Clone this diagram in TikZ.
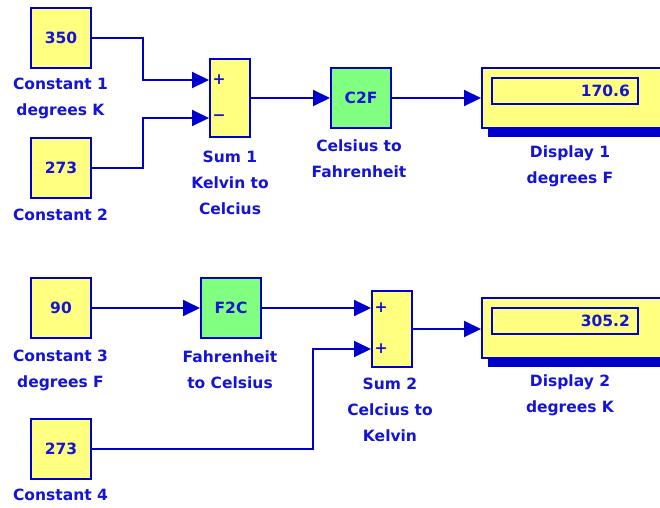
\documentclass[tikz,border=0pt]{standalone}
\usepackage{fontspec}
\setmainfont{DejaVu Sans}[UprightFont=* Bold]
\usetikzlibrary{arrows.meta,calc}
\definecolor{sblue}{RGB}{0,0,205}
\definecolor{stext}{RGB}{20,20,215}
\definecolor{syellow}{RGB}{255,255,128}
\definecolor{sgreen}{RGB}{128,255,128}
\begin{document}
\begin{tikzpicture}[x=1pt,y=-1pt,
  every node/.style={font=\fontsize{15.5}{26}\selectfont, text=stext, inner sep=0pt},
  blockbox/.style={draw=sblue, line width=2pt, fill=syellow, minimum width=60pt, minimum height=60pt},
  gainbox/.style={blockbox, fill=sgreen},
  sumbox/.style={blockbox, minimum width=40pt, minimum height=78pt},
  dispbox/.style={draw=sblue, line width=2pt, fill=syellow, minimum width=240pt, minimum height=60pt, anchor=west},
  fieldbox/.style={draw=sblue, line width=2pt, fill=syellow, minimum width=146pt, minimum height=26pt, anchor=west},
  lbl/.style={align=center},
  wire/.style={draw=sblue, line width=2pt, -{Triangle[length=17pt,width=16pt]}},
]
\useasboundingbox (0,0) rectangle (660,507);
\clip (0,0) rectangle (660,507);
\fill[white] (0,0) rectangle (660,507);

% ---- top row ----
\node[blockbox] (c1) at (61,38) {350};
\node[lbl] (c1l) at (60.5,98.5) {Constant 1\\degrees K};
\node[blockbox] (c2) at (61,168) {273};
\node[lbl] (c2l) at (60.5,215) {Constant 2};

\node[sumbox] (s1) at (230,98) {};
\coordinate (s1a) at ([yshift=18pt]s1.west);
\coordinate (s1b) at ([yshift=-20pt]s1.west);
\node (s1ap) at ([xshift=10pt]s1a) {+};
\node (s1bp) at ([xshift=10pt]s1b) {−};
\node[lbl] (s1l) at (230,183) {Sum 1\\Kelvin to\\Celcius};

\node[gainbox] (c2f) at (361,98) {C2F};
\node[lbl] (c2fl) at (359,159) {Celsius to\\Fahrenheit};

\fill[sblue] (488,128) rectangle (730,137);
\node[dispbox] (d1) at (481,98) {};
\node[fieldbox] (d1f) at (491,91) {};
\node[anchor=east] (d1v) at ([xshift=-9pt]d1f.east) {170.6};
\node[lbl] (d1l) at (570,166) {Display 1\\degrees F};

\draw[wire] (c1.east) -- ++(51,0) |- (s1a);
\draw[wire] (c2.east) -- ++(51,0) |- (s1b);
\draw[wire] (s1.east) -- (c2f.west);
\draw[wire] (c2f.east) -- (d1.west);

% ---- bottom row ----
\node[blockbox] (c3) at (61,308) {90};
\node[lbl] (c3l) at (60.5,370) {Constant 3\\degrees F};
\node[blockbox] (c4) at (61,449) {273};
\node[lbl] (c4l) at (60.5,495) {Constant 4};

\node[gainbox] (f2c) at (231,308) {F2C};
\node[lbl] (f2cl) at (230,370) {Fahrenheit\\to Celsius};

\node[sumbox, minimum height=76pt] (s2) at (392,329) {};
\coordinate (s2a) at (f2c.east -| s2.west);
\coordinate (s2b) at ([yshift=-20pt]s2.west);
\node (s2ap) at ([xshift=10pt]s2a) {+};
\node (s2bp) at ([xshift=10pt]s2b) {+};
\node[lbl] (s2l) at (390,410) {Sum 2\\Celcius to\\Kelvin};

\fill[sblue] (488,358) rectangle (730,367);
\node[dispbox] (d2) at (481,328) {};
\node[fieldbox] (d2f) at (491,321) {};
\node[anchor=east] (d2v) at ([xshift=-9pt]d2f.east) {305.2};
\node[lbl] (d2l) at (570,395.5) {Display 2\\degrees K};

\draw[wire] (c3.east) -- (f2c.west);
\draw[wire] (f2c.east) -- (s2a);
\draw[wire] (c4.east) -- ++(221,0) |- (s2b);
\draw[wire] (s2.east) -- (s2.east -| d2.west);
\end{tikzpicture}
\end{document}
